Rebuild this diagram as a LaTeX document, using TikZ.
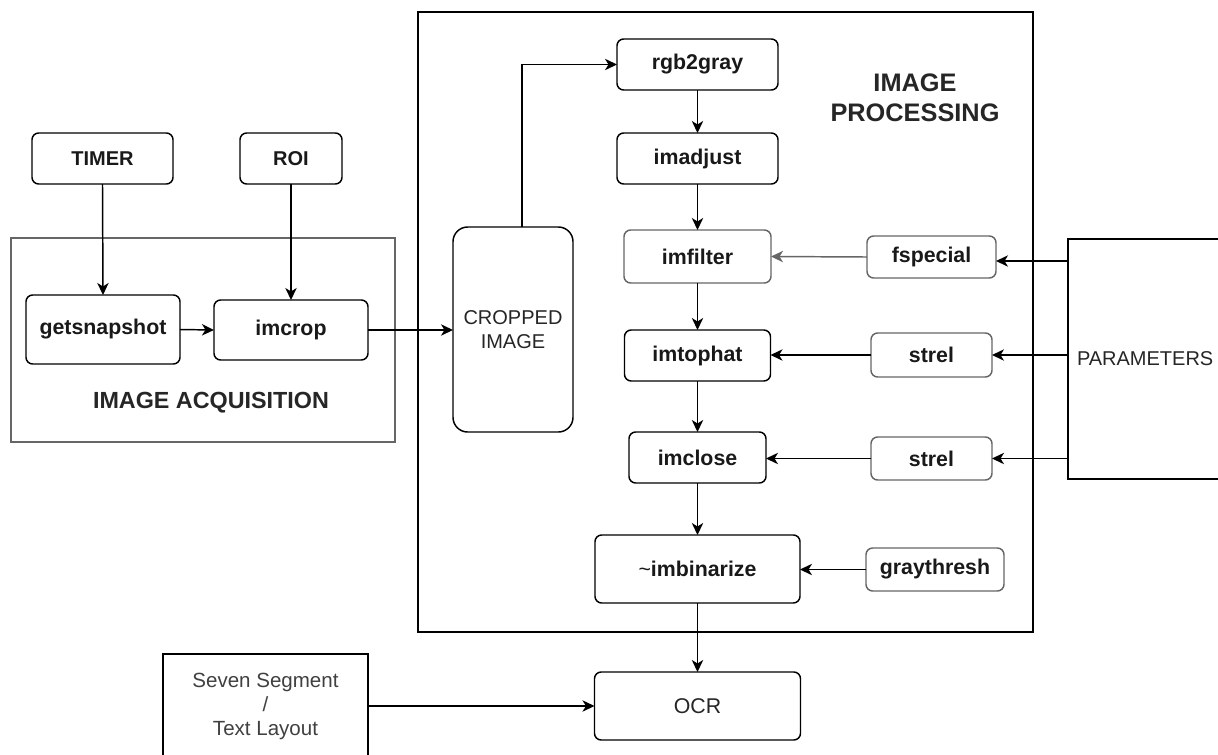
\documentclass[tikz,border=0pt]{standalone}
\usepackage{fontspec}
\setmainfont{Liberation Sans}
\usetikzlibrary{arrows.meta}

\begin{document}
\begin{tikzpicture}[
  x=0.75pt, y=-0.75pt,
  line width=1.1pt,
  >={Stealth[length=9pt, width=8.5pt, inset=2.6pt]},
  func/.style={draw, rounded corners=5pt, outer sep=0pt, inner sep=2pt, align=center,
               font=\fontsize{16}{19}\selectfont\bfseries, text=black!90},
  dimfunc/.style={func, draw=black!60},
  plain/.style={draw, rounded corners=5pt, outer sep=0pt, inner sep=2pt, align=center,
                font=\fontsize{15}{18}\selectfont, text=black!85},
  frame/.style={draw, outer sep=0pt, inner sep=0pt},
  framelbl/.style={align=center, font=\fontsize{17.5}{21}\selectfont\bfseries, text=black!85},
  feed/.style={->, draw=black!60},
]
% ---- canvas ----
\useasboundingbox (0,0) rectangle (1218,754);
\clip (0,0) rectangle (1218,754);
\fill[white] (0,0) rectangle (1218,754);

% ---- geometry (pixel grid of the sketch) ----
\def\cL{103}  \def\cR{291}  \def\cP{697.5}  \def\cS{931.5}
\def\rA{64.5} \def\rB{158.5} \def\rC{256.5} \def\rD{355.5} \def\rE{457.5} \def\rF{569} \def\rG{706}

% ---- group frames ----
\node[frame, draw=black!60, line width=1.6pt, minimum width=288pt, minimum height=153pt] (acqbox) at (203,340) {};
\node[frame, minimum width=461.25pt, minimum height=465pt] (procbox) at (725.5,322) {};
\node[framelbl] (acqlbl) at (211,403) {IMAGE ACQUISITION};
\node[framelbl, font=\fontsize{19}{22.5}\selectfont\bfseries] (proclbl) at (915,98) {IMAGE\\PROCESSING};

% ---- acquisition ----
\node[func, font=\fontsize{15}{18}\selectfont\bfseries, minimum width=105.75pt, minimum height=38.25pt] (timer) at (102.5,\rB) {TIMER};
\node[func, font=\fontsize{15}{18}\selectfont\bfseries, minimum width=76.5pt, minimum height=38.25pt] (roi) at (\cR,\rB) {ROI};
\node[func, minimum width=115.5pt, minimum height=51.75pt] (getsnap) at (\cL,329.5) {getsnapshot};
\node[func, minimum width=115.5pt, minimum height=45pt] (imcrop) at (\cR,330) {imcrop};
\node[plain, rounded corners=11pt, minimum width=90pt, minimum height=153.75pt] (crop) at (513,329.5) {CROPPED\\IMAGE};

% ---- processing chain ----
\node[func, minimum width=120.75pt, minimum height=38.25pt] (rgb) at (\cP,\rA) {rgb2gray};
\node[func, minimum width=120.75pt, minimum height=38.25pt] (imadj) at (\cP,\rB) {imadjust};
\node[dimfunc, minimum width=110.25pt, minimum height=39.75pt] (imfilt) at (\cP,\rC) {imfilter};
\node[func, minimum width=109.5pt, minimum height=38.25pt] (imtop) at (\cP,\rD) {imtophat};
\node[func, minimum width=102.75pt, minimum height=38.25pt] (imclose) at (\cP,\rE) {imclose};
\node[func, minimum width=153.75pt, minimum height=51pt] (imbin) at (\cP,\rF) {{\mdseries\textasciitilde}imbinarize};
\node[plain, font=\fontsize{16}{19}\selectfont, minimum width=154.5pt, minimum height=51pt] (ocr) at (\cP,\rG) {OCR};

% ---- side inputs ----
\node[dimfunc, minimum width=96.75pt, minimum height=31.5pt] (fspec) at (\cS,257) {fspecial};
\node[dimfunc, minimum width=90.75pt, minimum height=33pt] (strelA) at (\cS,355) {strel};
\node[dimfunc, minimum width=90.75pt, minimum height=32.25pt] (strelB) at (\cS,458.5) {strel};
\node[dimfunc, minimum width=103.5pt, minimum height=32.25pt] (gthresh) at (935,569.5) {graythresh};
\node[frame, minimum width=174pt, minimum height=180pt, inner xsep=6.75pt, text width=160.5pt, align=left,
      font=\fontsize{15}{18}\selectfont, text=black!85] (params) at (1184,359) {PARAMETERS};
\node[frame, minimum width=153.75pt, minimum height=78pt, align=center,
      font=\fontsize{15.4}{18}\selectfont, text=black!75] (layout) at (265.5,\rG) {Seven Segment\\/\\Text Layout};

% ---- connectors ----
\draw[->] (timer.south) -- (getsnap.north);
\draw[->] (roi.south) -- (imcrop.north);
\draw[->] (getsnap.east) -- (imcrop.west);
\draw[->] (imcrop.east) -- (imcrop.east -| crop.west);
\draw[->] ([xshift=6.75pt]crop.north) |- (rgb.west);
\draw[->] (rgb.south) -- (imadj.north);
\draw[->] (imadj.south) -- (imfilt.north);
\draw[->] (imfilt.south) -- (imtop.north);
\draw[->] (imtop.south) -- (imclose.north);
\draw[->] (imclose.south) -- (imbin.north);
\draw[->] (imbin.south) -- (ocr.north);
\draw[feed] (fspec.west) -- (imfilt.east);
\draw[->] (strelA.west) -- (strelA.west -| imtop.east);
\draw[->] (strelB.west) -- (strelB.west -| imclose.east);
\draw[->] (gthresh.west) -- (gthresh.west -| imbin.east);
\draw[->] ([yshift=-3pt]params.west |- fspec.east) -- ([yshift=-3pt]fspec.east);
\draw[->] (params.west |- strelA.east) -- (strelA.east);
\draw[->] (params.west |- strelB.east) -- (strelB.east);
\draw[->] (layout.east) -- (ocr.west);
\end{tikzpicture}
\end{document}
